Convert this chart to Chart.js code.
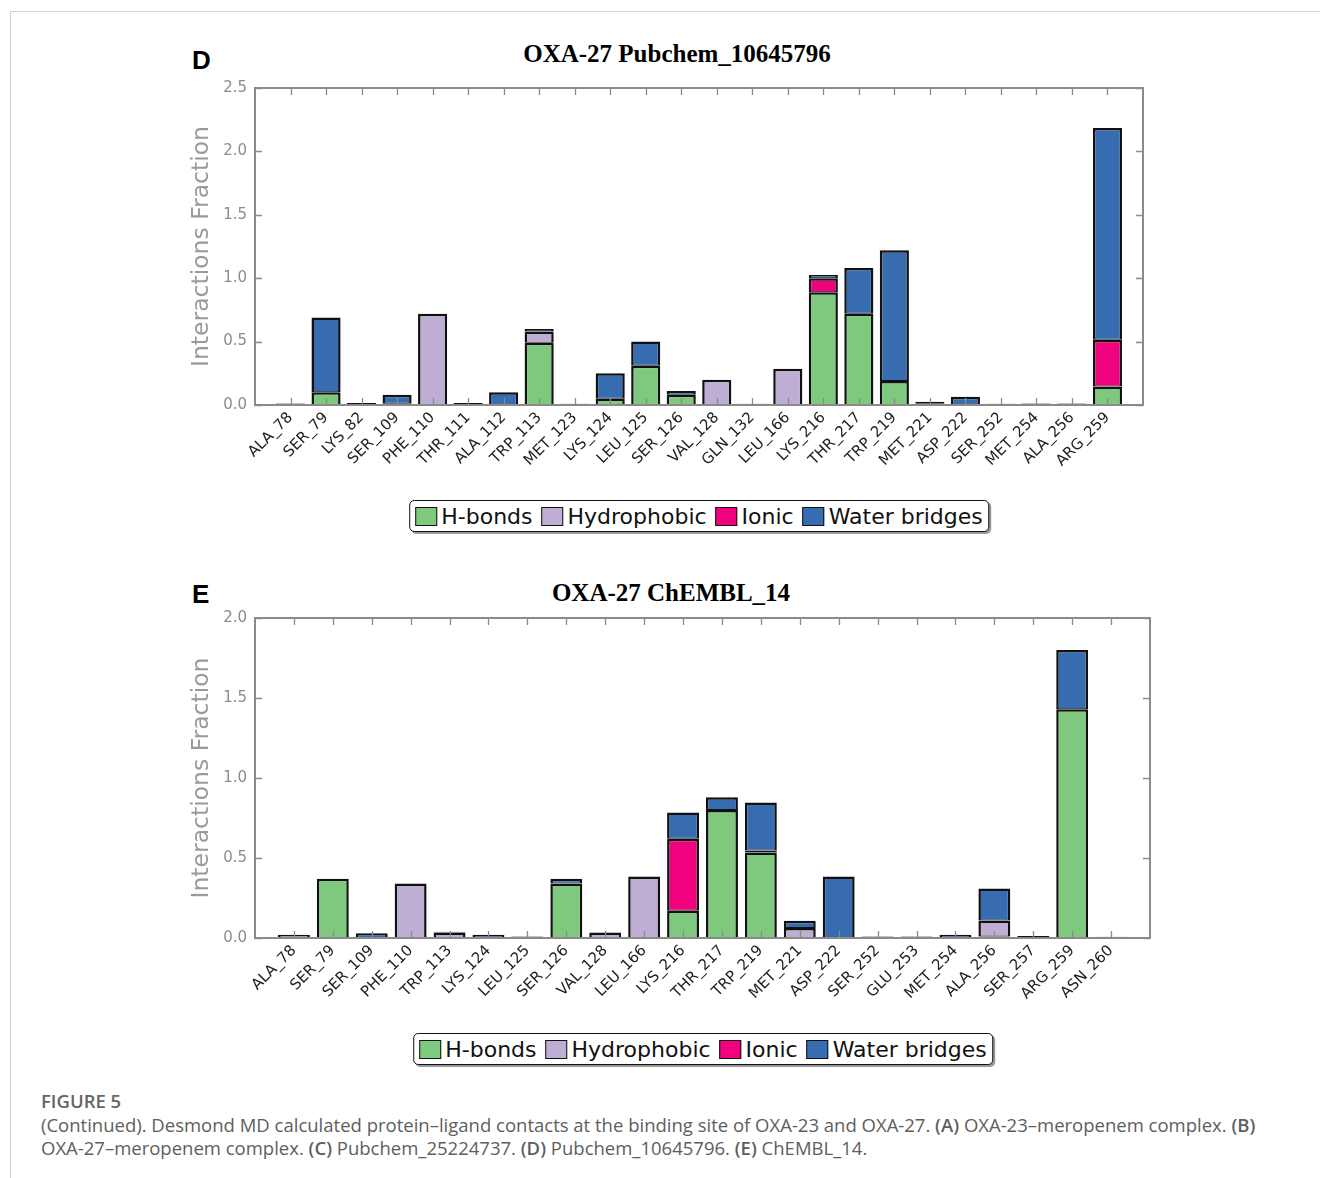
<!DOCTYPE html>
<html>
<head>
<meta charset="utf-8">
<script src="https://cdn.jsdelivr.net/npm/chart.js@4.4.1/dist/chart.umd.min.js"></script>
<style>
  html, body { margin: 0; padding: 0; background: #fff; }
  body { width: 1320px; height: 1178px; position: relative; overflow: hidden; }
  .frame-top { position: absolute; left: 10px; top: 11px; width: 1310px; height: 0; border-top: 1.5px solid #d2d2d2; }
  .frame-left { position: absolute; left: 10px; top: 11px; width: 0; height: 1167px; border-left: 1.5px solid #d2d2d2; }
  canvas { position: absolute; left: 0; }
  .letter { position: absolute; font: bold 26px "Liberation Sans", Arial, sans-serif; line-height: 26px; color: #000; }
  .title { position: absolute; font: bold 25px "Liberation Serif", "Times New Roman", serif; line-height: 26px; color: #000; transform: translateX(-50%); white-space: nowrap; }
  .legend { position: absolute; display: flex; align-items: center; height: 32px; padding: 0 5px; box-sizing: border-box;
            border: 1.5px solid #111; border-radius: 5px; box-shadow: 2px 2px 0 #999; background: #fff;
            font: 22px "DejaVu Sans", sans-serif; color: #111; transform: translateX(-50%); white-space: nowrap; }
  .legend .item { display: flex; align-items: center; margin-right: 9px; }
  .legend .item:last-child { margin-right: 0; }
  .legend i { display: inline-block; width: 22px; height: 19px; border: 1.5px solid #111; box-sizing: border-box; margin-right: 4px; }
  .caption { position: absolute; left: 41px; font-family: "Open Sans", sans-serif; font-size: 18.5px; color: #5e5e5e; white-space: nowrap; }
  .caption b { font-weight: 600; }
</style>
</head>
<body>
<div class="frame-top"></div>
<div class="frame-left"></div>

<div class="letter" style="left:192px;top:47px">D</div>
<div class="title" style="left:677px;top:41px">OXA-27 Pubchem_10645796</div>
<canvas id="chartD" width="1320" height="480" style="top:0"></canvas>
<div class="legend" id="legendD" style="left:699px;top:500px"></div>

<div class="letter" style="left:192px;top:581px">E</div>
<div class="title" style="left:671px;top:580px">OXA-27 ChEMBL_14</div>
<canvas id="chartE" width="1320" height="478" style="top:540px"></canvas>
<div class="legend" id="legendE" style="left:703px;top:1033px"></div>

<div class="caption" style="top:1088px;font-weight:600;color:#666">FIGURE 5</div>
<div class="caption" style="top:1112px">(Continued). Desmond MD calculated protein–ligand contacts at the binding site of OXA-23 and OXA-27. <b>(A)</b> OXA-23–meropenem complex. <b>(B)</b></div>
<div class="caption" style="top:1135px">OXA-27–meropenem complex. <b>(C)</b> Pubchem_25224737. <b>(D)</b> Pubchem_10645796. <b>(E)</b> ChEMBL_14.</div>

<script>
// interaction types and colours
const seriesNames = ['H-bonds', 'Hydrophobic', 'Ionic', 'Water bridges'];
const seriesColors = ['#7fc97f', '#beaed4', '#f0027f', '#386cb0'];

// panel D: OXA-27 Pubchem_10645796
const residuesD = ['ALA_78', 'SER_79', 'LYS_82', 'SER_109', 'PHE_110', 'THR_111', 'ALA_112', 'TRP_113',
  'MET_123', 'LYS_124', 'LEU_125', 'SER_126', 'VAL_128', 'GLN_132', 'LEU_166', 'LYS_216', 'THR_217',
  'TRP_219', 'MET_221', 'ASP_222', 'SER_252', 'MET_254', 'ALA_256', 'ARG_259'];
const hbondsD = [0, 0.10, 0, 0.01, 0, 0, 0, 0.49, 0, 0.05, 0.31, 0.08, 0, 0, 0, 0.89, 0.72, 0.19, 0, 0, 0, 0, 0, 0.145];
const hydroD  = [0.012, 0, 0, 0, 0.72, 0, 0, 0.09, 0.01, 0, 0, 0, 0.20, 0.01, 0.285, 0, 0, 0, 0.01, 0, 0.01, 0.012, 0.012, 0];
const ionicD  = [0, 0, 0, 0, 0, 0, 0, 0, 0, 0, 0, 0, 0, 0, 0, 0.11, 0, 0, 0, 0, 0, 0, 0, 0.37];
const waterD  = [0, 0.59, 0.015, 0.07, 0, 0.015, 0.10, 0.02, 0, 0.20, 0.19, 0.03, 0, 0, 0, 0.025, 0.36, 1.03, 0.015, 0.065, 0, 0, 0, 1.67];
const yTicksD = [0, 0.5, 1.0, 1.5, 2.0, 2.5];

// panel E: OXA-27 ChEMBL_14
const residuesE = ['ALA_78', 'SER_79', 'SER_109', 'PHE_110', 'TRP_113', 'LYS_124', 'LEU_125', 'SER_126',
  'VAL_128', 'LEU_166', 'LYS_216', 'THR_217', 'TRP_219', 'MET_221', 'ASP_222', 'SER_252', 'GLU_253',
  'MET_254', 'ALA_256', 'SER_257', 'ARG_259', 'ASN_260'];
const hbondsE = [0, 0.37, 0, 0, 0, 0, 0, 0.34, 0, 0, 0.17, 0.80, 0.535, 0, 0, 0, 0, 0, 0.01, 0, 1.43, 0];
const hydroE  = [0.02, 0, 0, 0.34, 0.035, 0, 0.01, 0, 0.035, 0.385, 0, 0, 0.012, 0.063, 0, 0.01, 0.01, 0, 0.10, 0.012, 0, 0.008];
const ionicE  = [0, 0, 0, 0, 0, 0, 0, 0, 0, 0, 0.45, 0, 0, 0, 0, 0, 0, 0, 0, 0, 0, 0];
const waterE  = [0, 0, 0.03, 0, 0.004, 0.02, 0, 0.03, 0, 0, 0.165, 0.08, 0.30, 0.045, 0.385, 0, 0, 0.02, 0.20, 0, 0.37, 0];
const yTicksE = [0, 0.5, 1.0, 1.5, 2.0];

// inward ticks on all four sides plus the axes frame, drawn over the bars
const frameTicks = {
  id: 'frameTicks',
  afterDatasetsDraw(chart) {
    const { ctx, chartArea: a, scales: { x, y } } = chart;
    ctx.save();
    ctx.strokeStyle = '#8a8a8a';
    ctx.lineWidth = 1.3;
    ctx.beginPath();
    x.ticks.forEach((t, i) => {
      const px = Math.round(x.getPixelForTick(i)) + 0.5;
      ctx.moveTo(px, a.bottom); ctx.lineTo(px, a.bottom - 7);
      ctx.moveTo(px, a.top); ctx.lineTo(px, a.top + 7);
    });
    y.ticks.forEach((t, i) => {
      const py = Math.round(y.getPixelForTick(i)) + 0.5;
      ctx.moveTo(a.left, py); ctx.lineTo(a.left + 7, py);
      ctx.moveTo(a.right, py); ctx.lineTo(a.right - 7, py);
    });
    ctx.stroke();
    ctx.lineWidth = 2;
    ctx.strokeRect(a.left, a.top, a.right - a.left, a.bottom - a.top);
    ctx.restore();
  }
};

function makeChart(id, residues, series, yTicks, box) {
  const datasets = series.map((vals, k) => ({
    label: seriesNames[k],
    data: vals.map((v, i) => ({ x: i, y: v })),
    backgroundColor: seriesColors[k],
    borderColor: '#111',
    borderWidth: { top: 2.5, left: 2.5, right: 2.5, bottom: 1 },
    borderSkipped: false,
    barPercentage: 0.82,
    categoryPercentage: 1
  }));
  return new Chart(document.getElementById(id), {
    type: 'bar',
    data: { datasets },
    plugins: [frameTicks],
    options: {
      responsive: false,
      animation: false,
      layout: { padding: { left: 180, top: box.top, right: box.right, bottom: 0 } },
      plugins: { legend: { display: false }, tooltip: { enabled: false }, title: { display: false } },
      scales: {
        x: {
          type: 'linear', stacked: true, offset: false, min: -1, max: residues.length,
          grid: { display: false, drawTicks: false, offset: false }, border: { display: false },
          afterBuildTicks: s => { s.ticks = residues.map((_, i) => ({ value: i })); },
          afterFit: s => { s.height = box.xh; },
          ticks: {
            autoSkip: false, minRotation: 45, maxRotation: 45, padding: 4,
            color: '#222', font: { family: '"DejaVu Sans", sans-serif', size: 15 },
            callback: v => residues[v] ?? ''
          }
        },
        y: {
          stacked: true, min: 0, max: yTicks[yTicks.length - 1],
          grid: { display: false, drawTicks: false }, border: { display: false },
          afterBuildTicks: s => { s.ticks = yTicks.map(v => ({ value: v })); },
          afterFit: s => { s.width = 75; },
          ticks: { padding: 8, color: '#8c8c8c', font: { family: '"DejaVu Sans", sans-serif', size: 15 }, callback: v => v.toFixed(1) },
          title: {
            display: true, text: 'Interactions Fraction', color: '#9a9a9a',
            font: { family: '"DejaVu Sans", sans-serif', size: 23.5 }, padding: { top: 8, bottom: 0 }
          }
        }
      }
    }
  });
}

function makeLegend(id) {
  const el = document.getElementById(id);
  seriesNames.forEach((name, k) => {
    const item = document.createElement('span');
    item.className = 'item';
    const sw = document.createElement('i');
    sw.style.background = seriesColors[k];
    item.appendChild(sw);
    item.appendChild(document.createTextNode(name));
    el.appendChild(item);
  });
}

makeChart('chartD', residuesD, [hbondsD, hydroD, ionicD, waterD], yTicksD, { top: 88, right: 177, xh: 75 });
makeChart('chartE', residuesE, [hbondsE, hydroE, ionicE, waterE], yTicksE, { top: 78, right: 170, xh: 80 });
makeLegend('legendD');
makeLegend('legendE');
</script>
</body>
</html>
